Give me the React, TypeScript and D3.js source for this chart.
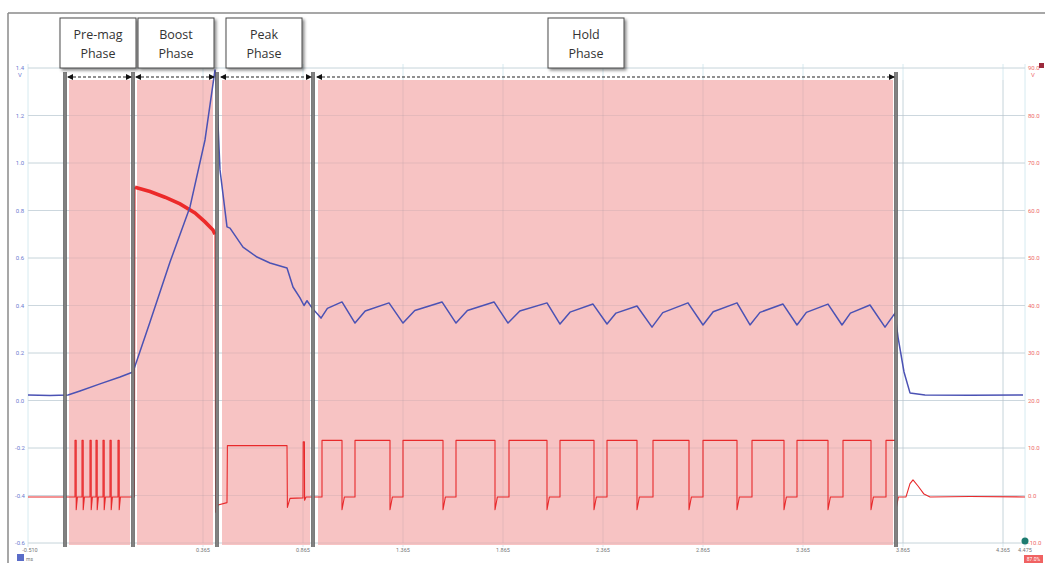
import React from "react";
import * as d3 from "d3";

const W = 1045;
const H = 563;

// time axis (ms) and the two channel axes
const timeDomain = [-0.51, 4.475];
const tickTimes = [0.365, 0.865, 1.365, 1.865, 2.365, 2.865, 3.365, 3.865, 4.365];
const leftTicks = [1.4, 1.2, 1.0, 0.8, 0.6, 0.4, 0.2, 0.0, -0.2, -0.4, -0.6];
const rightTicks = [90, 80, 70, 60, 50, 40, 30, 20, 10, 0, -10];

// phases
const phaseNames = ["Pre-mag", "Boost", "Peak", "Hold"];
const phaseStart = [-0.305, 0.035, 0.46, 0.94];
const phaseEnd = [0.0, 0.415, 0.9, 3.815];
const phaseBoxCenter = [-0.16, 0.23, 0.67, 2.28];
const phaseLines = [-0.325, 0.015, 0.435, 0.915, 3.83];

// blue channel (left axis): [time, value]
const blueTrace: [number, number][] = [
  [-0.51, 0.023], [-0.4, 0.021], [-0.31, 0.023], [-0.25, 0.04], [-0.15, 0.07],
  [-0.05, 0.099], [0.015, 0.12], [0.1, 0.331], [0.2, 0.583], [0.3, 0.815],
  [0.375, 1.097], [0.425, 1.392], [0.43, 1.36], [0.45, 0.971], [0.485, 0.731],
  [0.5, 0.726], [0.565, 0.646], [0.635, 0.604], [0.7, 0.579], [0.785, 0.558],
  [0.815, 0.478], [0.85, 0.432], [0.87, 0.4], [0.885, 0.42], [0.91, 0.39],
  [0.955, 0.347], [0.987, 0.388], [1.06, 0.415], [1.125, 0.326], [1.176, 0.377],
  [1.295, 0.411], [1.365, 0.326], [1.424, 0.379], [1.56, 0.415], [1.63, 0.326],
  [1.687, 0.379], [1.82, 0.415], [1.89, 0.326], [1.949, 0.377], [2.085, 0.411],
  [2.15, 0.322], [2.2, 0.372], [2.315, 0.406], [2.385, 0.322], [2.43, 0.368],
  [2.535, 0.398], [2.61, 0.309], [2.664, 0.37], [2.79, 0.411], [2.865, 0.318],
  [2.916, 0.374], [3.035, 0.411], [3.1, 0.318], [3.15, 0.371], [3.265, 0.406],
  [3.335, 0.318], [3.382, 0.371], [3.49, 0.406], [3.56, 0.318], [3.602, 0.368],
  [3.7, 0.402], [3.775, 0.309], [3.825, 0.368], [3.84, 0.267], [3.87, 0.12],
  [3.9, 0.032], [3.975, 0.023], [4.2, 0.022], [4.465, 0.023],
];

// red channel (right axis)
const redLow = -0.3;
const redHigh = 11.6;
const redDip = -3;
const premagPulses = [-0.275, -0.24, -0.2, -0.17, -0.135, -0.1, -0.06];
const boostRed: [number, number][] = [
  [0.025, 64.9], [0.1, 64.0], [0.175, 62.8], [0.25, 61.4], [0.325, 59.5],
  [0.375, 57.6], [0.415, 55.9], [0.425, 55.0],
];
const peakRed: [number, number][] = [
  [0.428, -3.5], [0.44, -2], [0.485, -1.5], [0.487, 10.5], [0.785, 10.5],
  [0.787, -2.5], [0.8, -0.6], [0.865, -0.5], [0.866, 11.3], [0.872, 11.3],
  [0.873, -1], [0.88, -0.3],
];
const holdOn = [0.96, 1.125, 1.365, 1.63, 1.895, 2.15, 2.385, 2.615, 2.865, 3.11, 3.335, 3.565, 3.78];
const holdOff = [1.06, 1.3, 1.565, 1.825, 2.085, 2.32, 2.535, 2.795, 3.035, 3.27, 3.49, 3.705, 3.83];
const tailRed: [number, number][] = [
  [3.88, -0.3], [3.9, 2.5], [3.915, 3.3], [3.94, 2.0], [3.97, 0.3], [4.0, -0.3],
  [4.2, -0.2], [4.475, -0.3],
];

export default function App() {
  const x = d3.scaleLinear().domain(timeDomain).range([28, 1025]);
  const yL = d3.scaleLinear().domain([-0.6, 1.4]).range([543, 68]);
  const yR = d3.scaleLinear().domain([-10, 90]).range([543, 68]);

  const blueLine = d3.line<[number, number]>().x(d => x(d[0])).y(d => yL(d[1]));
  const redLine = d3.line<[number, number]>().x(d => x(d[0])).y(d => yR(d[1]));

  // build the red trace from the read edges
  const red: [number, number][] = [[timeDomain[0], redLow]];
  premagPulses.forEach(p => {
    red.push([p, redLow], [p, redHigh], [p + 0.006, redHigh], [p + 0.006, redDip], [p + 0.012, redLow]);
  });
  red.push([0.022, redLow], ...boostRed, ...peakRed);
  holdOn.forEach((on, i) => {
    const off = holdOff[i];
    red.push([on, redLow], [on, redHigh], [off, redHigh], [off, redDip], [off + 0.012, redLow]);
  });
  red.push(...tailRed);

  const top = 68, bottom = 543;
  const gridColor = "#d6eaf0";

  return (
    <div style={{ width: W, height: H, background: "#fff" }}>
      <style>{"body{margin:0}"}</style>
      <svg width={W} height={H} style={{ display: "block" }}>
        <defs>
          <filter id="shadow" x="-20%" y="-20%" width="150%" height="150%">
            <feDropShadow dx="2" dy="2" stdDeviation="1.5" floodColor="#000" floodOpacity="0.45" />
          </filter>
          <marker id="arrL" viewBox="0 0 6 6" refX="1" refY="3" markerWidth="5" markerHeight="5" orient="auto">
            <path d="M6,0 L0,3 L6,6 Z" fill="#111" />
          </marker>
          <marker id="arrR" viewBox="0 0 6 6" refX="5" refY="3" markerWidth="5" markerHeight="5" orient="auto">
            <path d="M0,0 L6,3 L0,6 Z" fill="#111" />
          </marker>
        </defs>

        {/* outer frame */}
        <line x1={8} x2={W} y1={13} y2={13} stroke="#8a8a8a" strokeWidth={1.5} />
        <line x1={8} x2={8} y1={13} y2={H} stroke="#8a8a8a" strokeWidth={1.5} />

        {/* grid */}
        {leftTicks.map((v, i) => (
          <line key={"h" + i} x1={28} x2={1025} y1={yL(v)} y2={yL(v)} stroke={gridColor} strokeWidth={1} />
        ))}
        {tickTimes.map((t, i) => (
          <line key={"v" + i} x1={x(t)} x2={x(t)} y1={top - 4} y2={bottom + 4} stroke={gridColor} strokeWidth={1} />
        ))}
        <line x1={28} x2={28} y1={top - 4} y2={bottom + 4} stroke={gridColor} />
        <line x1={1025} x2={1025} y1={top - 4} y2={bottom + 4} stroke={gridColor} />

        {/* phase shading */}
        {phaseStart.map((s, i) => (
          <rect key={"p" + i} x={x(s)} y={80} width={x(phaseEnd[i]) - x(s)} height={bottom + 2 - 80} fill="#f7c3c3" />
        ))}
        {leftTicks.map((v, i) => (
          <line key={"hp" + i} x1={28} x2={1025} y1={yL(v)} y2={yL(v)} stroke="rgba(170,150,160,0.22)" strokeWidth={1} />
        ))}
        {tickTimes.map((t, i) => (
          <line key={"vp" + i} x1={x(t)} x2={x(t)} y1={80} y2={bottom} stroke="rgba(170,150,160,0.22)" strokeWidth={1} />
        ))}

        {/* traces */}
        <path d={redLine(red) || ""} fill="none" stroke="#e8292b" strokeWidth={1.1} strokeLinejoin="round" />
        <path d={redLine(boostRed) || ""} fill="none" stroke="#ec2a2a" strokeWidth={3.6} />
        <path d={blueLine(blueTrace) || ""} fill="none" stroke="#4b52b4" strokeWidth={1.5} strokeLinejoin="round" />

        {/* phase boundaries */}
        {phaseLines.map((t, i) => (
          <g key={"l" + i}>
            <line x1={x(t)} x2={x(t)} y1={72} y2={547} stroke="#5a5a5a" strokeWidth={3.6} />
            <line x1={x(t)} x2={x(t)} y1={72} y2={547} stroke="#bdbdbd" strokeWidth={0.8} />
          </g>
        ))}

        {/* phase arrows */}
        {phaseStart.map((s, i) => (
          <line key={"a" + i} x1={x(s) - 1} x2={x(phaseEnd[i]) + 1} y1={77} y2={77}
            stroke="#222" strokeWidth={1.2} strokeDasharray="3,2"
            markerStart="url(#arrL)" markerEnd="url(#arrR)" />
        ))}

        {/* phase boxes */}
        {phaseNames.map((n, i) => {
          const cx = x(phaseBoxCenter[i]);
          return (
            <g key={"b" + i}>
              <rect x={cx - 38} y={18} width={76} height={50} fill="#fff" stroke="#4a4a4a" strokeWidth={1} filter="url(#shadow)" />
              <text x={cx} y={39} textAnchor="middle" fontFamily="'Open Sans', sans-serif" fontSize={12.5} fill="#333">{n}</text>
              <text x={cx} y={58} textAnchor="middle" fontFamily="'Open Sans', sans-serif" fontSize={12.5} fill="#333">Phase</text>
            </g>
          );
        })}

        {/* left axis labels */}
        {leftTicks.map((v, i) => (
          <text key={"ll" + i} x={20} y={yL(v) + 2} textAnchor="middle" fontFamily="Roboto, sans-serif" fontSize={6} fill="#6c7bd0">
            {v.toFixed(1)}
          </text>
        ))}
        <text x={20} y={77} textAnchor="middle" fontFamily="Roboto, sans-serif" fontSize={6} fill="#6c7bd0">V</text>

        {/* right axis labels */}
        {rightTicks.map((v, i) => (
          <text key={"rl" + i} x={1028} y={yR(v) + 2} fontFamily="Roboto, sans-serif" fontSize={6} fill="#ee6a6a">
            {v.toFixed(1)}
          </text>
        ))}
        <text x={1031} y={77} fontFamily="Roboto, sans-serif" fontSize={6} fill="#ee6a6a">V</text>
        <rect x={1039} y={63} width={5} height={5} fill="#9c2a3c" />

        {/* time labels */}
        {tickTimes.map((t, i) => (
          <text key={"tl" + i} x={x(t)} y={552} textAnchor="middle" fontFamily="Roboto, sans-serif" fontSize={5.5} fill="#777">
            {t.toFixed(3)}
          </text>
        ))}
        <text x={30} y={552} textAnchor="middle" fontFamily="Roboto, sans-serif" fontSize={5.5} fill="#777">{timeDomain[0].toFixed(3)}</text>
        <text x={1025} y={552} textAnchor="middle" fontFamily="Roboto, sans-serif" fontSize={5.5} fill="#777">{timeDomain[1].toFixed(3)}</text>

        {/* small status marks */}
        <rect x={17} y={554} width={7} height={7} fill="#5a6cc8" />
        <text x={26} y={561} fontFamily="Roboto, sans-serif" fontSize={5} fill="#777">ms</text>
        <circle cx={1025} cy={541} r={3.5} fill="#1d7b70" />
        <rect x={1024} y={555} width={19} height={8} fill="#f06262" />
        <text x={1033.5} y={561} textAnchor="middle" fontFamily="Roboto, sans-serif" fontSize={5} fill="#fff">87.0%</text>
      </svg>
    </div>
  );
}
